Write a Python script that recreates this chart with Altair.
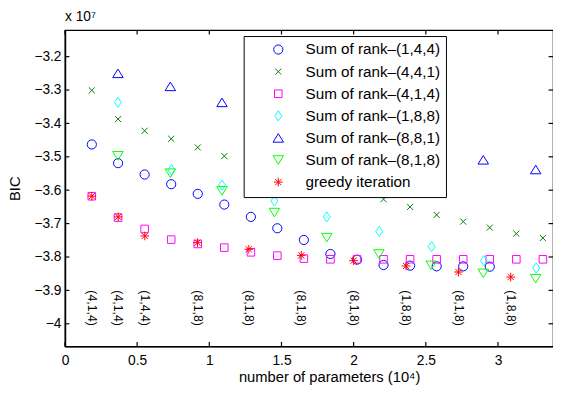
import altair as alt
import pandas as pd

FONT = "Liberation Sans"

# ---------------- data (BIC in units of 1e7, parameters in units of 1e4) ----------------
series_names = ["Sum of rank–(1,4,4)", "Sum of rank–(4,4,1)", "Sum of rank–(4,1,4)",
                "Sum of rank–(1,8,8)", "Sum of rank–(8,8,1)", "Sum of rank–(8,1,8)",
                "greedy iteration"]

r144_x = [0.186, 0.368, 0.552, 0.736, 0.920, 1.104, 1.288, 1.471, 1.655, 1.839, 2.023,
          2.207, 2.391, 2.575, 2.759, 2.943]
r144_y = [-3.463, -3.519, -3.553, -3.582, -3.611, -3.643, -3.680, -3.714, -3.749, -3.791,
          -3.808, -3.824, -3.826, -3.828, -3.828, -3.829]

r441_x = [0.186, 0.368, 0.552, 0.736, 0.920, 1.104, 2.023, 2.207, 2.391, 2.575, 2.759,
          2.943, 3.127, 3.311]
r441_y = [-3.301, -3.387, -3.422, -3.446, -3.472, -3.498, -3.605, -3.627, -3.650, -3.674,
          -3.694, -3.712, -3.730, -3.743]

r414_x = [0.186, 0.368, 0.552, 0.736, 0.920, 1.104, 1.288, 1.471, 1.655, 1.839, 2.023,
          2.207, 2.391, 2.575, 2.759, 2.943, 3.127, 3.311]
r414_y = [-3.618, -3.682, -3.716, -3.748, -3.761, -3.772, -3.786, -3.796, -3.805, -3.807,
          -3.807, -3.807, -3.807, -3.807, -3.807, -3.807, -3.807, -3.807]

r188_x = [0.367, 0.737, 1.088, 1.451, 1.814, 2.177, 2.540, 2.902, 3.265]
r188_y = [-3.337, -3.539, -3.585, -3.632, -3.680, -3.723, -3.769, -3.811, -3.833]

r881_x = [0.367, 0.730, 1.088, 2.898, 3.261]
r881_y = [-3.250, -3.289, -3.337, -3.509, -3.538]

r818_x = [0.367, 0.730, 1.088, 1.451, 1.814, 2.175, 2.537, 2.898, 3.261]
r818_y = [-3.497, -3.549, -3.602, -3.667, -3.742, -3.791, -3.825, -3.849, -3.865]

greedy_x = [0.186, 0.369, 0.553, 0.918, 1.274, 1.637, 2.000, 2.363, 2.726, 3.088]
greedy_y = [-3.618, -3.680, -3.737, -3.757, -3.777, -3.795, -3.811, -3.827, -3.845, -3.860]
greedy_labels = ["(4,1,4)", "(4,1,4)", "(1,4,4)", "(8,1,8)", "(8,1,8)", "(8,1,8)",
                 "(8,1,8)", "(1,8,8)", "(8,1,8)", "(1,8,8)"]
label_level = -3.9

x_ticks = [0, 0.5, 1, 1.5, 2, 2.5, 3]
y_ticks = [-4.0, -3.9, -3.8, -3.7, -3.6, -3.5, -3.4, -3.3, -3.2]

# ---------------- styling ----------------
colors = ["#0000ff", "#008000", "#ff00ff", "#00ffff", "#0000ff", "#00ff00", "#ff0000"]
shapes = [
    "M0.85,0A0.85,0.85,0,1,1,-0.85,0A0.85,0.85,0,1,1,0.85,0Z",
    "M-0.56,-0.56L0.56,0.56M-0.56,0.56L0.56,-0.56",
    "M-0.7,-0.7L0.7,-0.7L0.7,0.7L-0.7,0.7Z",
    "M0,-0.95L0.64,0L0,0.95L-0.64,0Z",
    "M0,-0.79L0.97,0.79L-0.97,0.79Z",
    "M0,0.79L0.97,-0.79L-0.97,-0.79Z",
    "M-0.8,0L0.8,0M0,-0.8L0,0.8M-0.57,-0.57L0.57,0.57M-0.57,0.57L0.57,-0.57",
]

W, H = 497, 322
x_dom = [0, 3.381]
y_dom = [-4.0676, -3.1206]

rows = []
for name, xs, ys in zip(series_names,
                        [r144_x, r441_x, r414_x, r188_x, r881_x, r818_x, greedy_x],
                        [r144_y, r441_y, r414_y, r188_y, r881_y, r818_y, greedy_y]):
    for xv, yv in zip(xs, ys):
        rows.append({"series": name, "x": xv, "y": yv})
df = pd.DataFrame(rows)

xscale = alt.Scale(domain=x_dom, nice=False, zero=False)
yscale = alt.Scale(domain=y_dom, nice=False, zero=False)

XTITLE = "number of parameters (10⁴)"
YTITLE = "BIC"

x_axis = alt.Axis(values=x_ticks, title=XTITLE,
                  labelExpr="format(datum.value, '.1~f')",
                  ticks=False, tickSize=0, grid=False, domainColor="black",
                  domainWidth=1.6, labelFlush=False, labelOverlap=False,
                  labelPadding=8, labelFont=FONT, labelFontSize=14,
                  labelColor="black", titleFont=FONT, titleFontSize=15,
                  titleFontWeight="normal", titleColor="black",
                  titleX=269, titleY=36, titleAlign="center",
                  titleBaseline="alphabetic")
y_axis = alt.Axis(values=y_ticks, title=YTITLE,
                  labelExpr="replace(format(datum.value, '.1~f'), '-', '−')",
                  ticks=False, tickSize=0, grid=False, domainColor="black",
                  domainWidth=1.6, labelFlush=False, labelOverlap=False,
                  labelPadding=4, labelFont=FONT, labelFontSize=14,
                  labelColor="black", titleFont=FONT, titleFontSize=15,
                  titleFontWeight="normal", titleColor="black",
                  titleAngle=270, titleX=-51, titleY=161, titleAlign="center",
                  titleBaseline="middle")

legend = alt.Legend(orient="none", legendX=182, legendY=6, title=None,
                    fillColor="white", strokeColor="black",
                    padding=6, symbolOffset=21.5, labelOffset=20,
                    rowPadding=5.5, labelFont=FONT, labelFontSize=15.5,
                    labelColor="black", symbolSize=121,
                    symbolStrokeWidth=1, labelLimit=300)

points = alt.Chart(df).mark_point(filled=False, size=121, strokeWidth=1, opacity=1).encode(
    x=alt.X("x:Q", scale=xscale, axis=x_axis),
    y=alt.Y("y:Q", scale=yscale, axis=y_axis),
    color=alt.Color("series:N", scale=alt.Scale(domain=series_names, range=colors),
                    legend=legend),
    shape=alt.Shape("series:N", scale=alt.Scale(domain=series_names, range=shapes),
                    legend=legend),
)

labels_df = pd.DataFrame({"x": greedy_x, "label": greedy_labels})
labels = alt.Chart(labels_df).mark_text(angle=90, align="left", baseline="middle",
                                        font=FONT, fontSize=12.5, color="black").encode(
    x=alt.X("x:Q", scale=xscale, axis=None),
    y=alt.datum(label_level, scale=yscale, axis=None),
    text="label:N",
)

xt = pd.DataFrame({"tx": x_ticks})
yt = pd.DataFrame({"ty": y_ticks})
TICK = 4.5
tick_b = alt.Chart(xt).mark_rule(color="black", strokeWidth=1.2).encode(
    x=alt.X("tx:Q", scale=xscale, axis=None),
    y=alt.value(H), y2=alt.value(H - TICK))
tick_t = alt.Chart(xt).mark_rule(color="black", strokeWidth=1.2).encode(
    x=alt.X("tx:Q", scale=xscale, axis=None),
    y=alt.value(0), y2=alt.value(TICK))
tick_l = alt.Chart(yt).mark_rule(color="black", strokeWidth=1.2).encode(
    y=alt.Y("ty:Q", scale=yscale, axis=None),
    x=alt.value(0), x2=alt.value(TICK))
tick_r = alt.Chart(yt).mark_rule(color="black", strokeWidth=1.2).encode(
    y=alt.Y("ty:Q", scale=yscale, axis=None),
    x=alt.value(W), x2=alt.value(W - TICK))

chart = alt.layer(tick_b, tick_t, tick_l, tick_r, points, labels).resolve_axis(
    x="independent", y="independent"
).properties(
    width=W, height=H,
    title=alt.TitleParams(text="x 10⁷", anchor="start", frame="group", offset=6,
                          font=FONT, fontSize=14, fontWeight="normal", color="black"),
    autosize=alt.AutoSizeParams(type="none"),
    padding={"left": 58, "top": 19, "right": 0, "bottom": 45},
    background="white",
).configure_view(stroke="black", strokeWidth=1.2)

chart.save("out.html", embed_options={"renderer": "svg", "actions": False})
